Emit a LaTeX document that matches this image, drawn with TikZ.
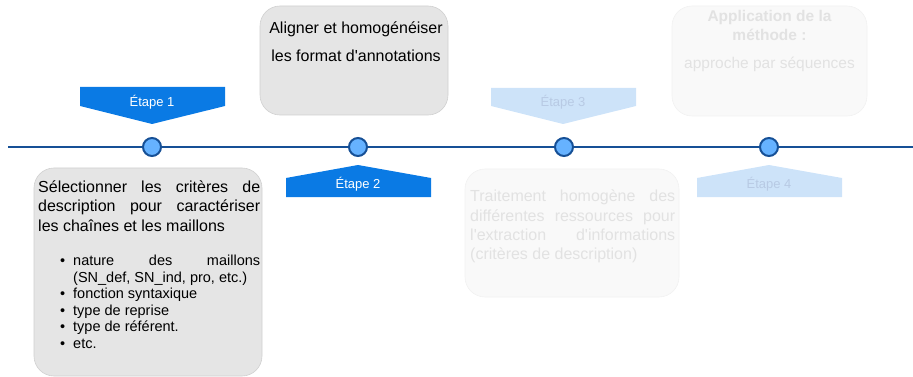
\documentclass[tikz,border=0pt]{standalone}
\usepackage{fontspec}
\setmainfont{Liberation Sans}
\usetikzlibrary{positioning}

\definecolor{lineblue}{RGB}{22,80,150}
\definecolor{dotblue}{RGB}{102,178,255}
\definecolor{stepblue}{RGB}{10,122,228}
\definecolor{paleblue}{RGB}{205,227,249}
\definecolor{palestep}{RGB}{184,202,228}
\definecolor{boxgray}{RGB}{229,229,229}
\definecolor{boxedge}{RGB}{208,208,208}
\definecolor{palebox}{RGB}{249,249,249}
\definecolor{paleedge}{RGB}{241,241,241}
\definecolor{paletext}{RGB}{226,226,226}

\newcommand{\critem}{\par\leavevmode\llap{\textbullet\hspace{8pt}}}
\newcommand{\sq}{\textquotesingle}

\begin{document}
\begin{tikzpicture}[x=1pt,y=-1pt]
        \tikzstyle{dot_style} = [circle, fill=dotblue, draw=lineblue, line width=2pt, minimum size=18pt, inner sep=0]
        \tikzstyle{line_style} = [lineblue, line width=2pt]
        \tikzstyle{box_style} = [rounded corners=20pt, fill=boxgray, draw=boxedge, line width=0.6pt]
        \tikzstyle{pale_box_style} = [rounded corners=20pt, fill=palebox, draw=paleedge, line width=0.6pt]
        \tikzstyle{step_text} = [text=white, font=\fontsize{13}{15}\selectfont]
        \tikzstyle{pale_step_text} = [text=palestep, font=\fontsize{13}{15}\selectfont]
        \tikzstyle{body_text} = [inner sep=0, font=\fontsize{16}{19.3}\selectfont]

        \useasboundingbox (0,0) rectangle (913,377);

        % The timeline
        \coordinate (t0) at (8,147);
        \coordinate (t1) at (913,147);
        \draw[line_style] (t0) -- (t1);

        \node[dot_style] (dot1) at (152,147) {};
        \node[dot_style] (dot2) at (358,147) {};
        \node[dot_style] (dot3) at (564,147) {};
        \node[dot_style] (dot4) at (769,147) {};

        % Step banners
        \fill[stepblue] (80,87) -- (225,87) -- (225,106) -- (152,124) -- (80,106) -- cycle;
        \node[step_text] (step1) at (152,102) {Étape 1};

        \fill[stepblue] (286,197) -- (431,197) -- (431,178) -- (358,165) -- (286,178) -- cycle;
        \node[step_text] (step2) at (358,184) {Étape 2};

        \fill[paleblue] (491,88) -- (636,88) -- (636,106) -- (563,124) -- (491,106) -- cycle;
        \node[pale_step_text] (step3) at (563,102) {Étape 3};

        \fill[paleblue] (697,197) -- (842,197) -- (842,178) -- (769,165) -- (697,178) -- cycle;
        \node[pale_step_text] (step4) at (769,184) {Étape 4};

        % Box under step 1
        \node[box_style, minimum width=228, minimum height=208] (box1) at (148,272) {};
        \node[inner sep=0, anchor=north west, text width=222pt, align=justify,
              font=\fontsize{16}{19.5}\selectfont] (box1title) at (38,180.5)
            {Sélectionner les critères de\linebreak description pour caractériser\linebreak les chaînes et les maillons};
        \node[inner sep=0, anchor=north west, text width=222pt, align=justify,
              font=\fontsize{14.5}{16.5}\selectfont] (box1list) at (38,249)
            {\parindent=0pt\leftskip=35pt
             \critem nature des maillons\linebreak (SN\_def, SN\_ind, pro, etc.)
             \critem fonction syntaxique
             \critem type de reprise
             \critem type de référent.
             \critem etc.\par};

        % Box above step 2
        \node[box_style, minimum width=188, minimum height=109] (box2) at (354,60.5) {};
        \node[body_text, anchor=base] (box2a) at (356,33.5) {Aligner et homogénéiser};
        \node[body_text, anchor=base] (box2b) at (356,61.5) {les format d\sq annotations};

        % Box under step 3
        \node[pale_box_style, minimum width=214, minimum height=128] (box3) at (572,233) {};
        \node[body_text, anchor=north west, text width=205pt, align=justify, text=paletext] (box3text) at (470,190)
            {Traitement homogène des\linebreak différentes ressources pour\linebreak l\sq extraction d\sq informations\linebreak (critères de description)};

        % Box above step 4
        \node[pale_box_style, minimum width=195, minimum height=110] (box4) at (769.5,61) {};
        \node[body_text, anchor=base, text=paletext, font=\bfseries\fontsize{15.5}{19}\selectfont] (box4a) at (769.5,21.5) {Application de la};
        \node[body_text, anchor=base, text=paletext, font=\bfseries\fontsize{15.5}{19}\selectfont] (box4b) at (769.5,40.5) {méthode :};
        \node[body_text, anchor=base, text=paletext, font=\fontsize{15.5}{19}\selectfont] (box4c) at (769.5,68.5) {approche par séquences};
\end{tikzpicture}
\end{document}
